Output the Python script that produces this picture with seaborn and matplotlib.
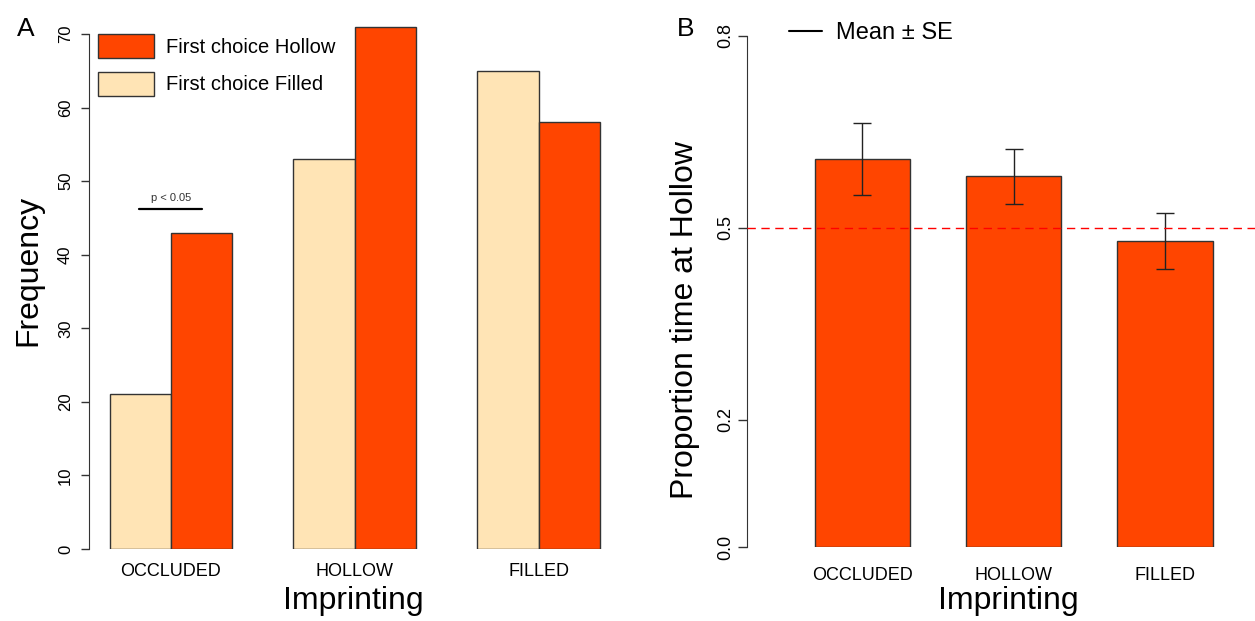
import pandas as pd
import matplotlib.pyplot as plt
import seaborn as sns
from matplotlib.patches import Patch
from matplotlib.lines import Line2D

# ---------------------------------------------------------
# DATA
# ---------------------------------------------------------
imprinting = ["OCCLUDED", "HOLLOW", "FILLED"]

# panel A: counts of first choice
first_filled = [21, 53, 65]
first_hollow = [43, 71, 58]

# panel B: proportion of time at hollow stimulus
prop_mean = [0.607, 0.580, 0.479]
prop_se = [0.056, 0.043, 0.044]

RED = "#FF4500"
BEIGE = "#FFE4B5"
EDGE = "#333333"

sns.set_style("white")
plt.rcParams["font.family"] = ["Liberation Sans", "DejaVu Sans"]
plt.rcParams["text.color"] = "black"
plt.rcParams["xtick.color"] = "black"
plt.rcParams["ytick.color"] = "black"
plt.rcParams["axes.labelcolor"] = "black"

df_a = pd.DataFrame({
    "imprinting": imprinting * 2,
    "choice": ["Filled"] * 3 + ["Hollow"] * 3,
    "count": first_filled + first_hollow,
})
df_b = pd.DataFrame({"imprinting": imprinting, "prop": prop_mean, "se": prop_se})

fig = plt.figure(figsize=(12.55, 6.21), dpi=100)
ax1 = fig.add_axes([0.0709, 0.11594, 0.4215, 0.87601])
ax2 = fig.add_axes([0.5952, 0.11836, 0.4167, 0.87359])

# ---------------------------------------------------------
# PANEL A
# ---------------------------------------------------------
sns.barplot(data=df_a, x="imprinting", y="count", hue="choice",
            hue_order=["Filled", "Hollow"], palette=[BEIGE, RED], saturation=1,
            width=2 / 3, gap=0, edgecolor=EDGE, linewidth=1,
            errorbar=None, legend=False, ax=ax1)
ax1.set_xlim(-0.446, 2.432)
ax1.set_ylim(0, 73.94)
ax1.set_yticks(range(0, 71, 10))
ax1.set_xticks(range(len(imprinting)))
ax1.set_xticklabels(imprinting, fontsize=13)
ax1.tick_params(axis="x", length=0, pad=10)
ax1.tick_params(axis="y", left=True, labelrotation=90, labelsize=12, length=6,
                width=1, pad=5.5, color=EDGE)
for lab in ax1.get_yticklabels():
    lab.set_va("center")
ax1.set_ylabel("Frequency", fontsize=23)
ax1.yaxis.set_label_coords(-0.1153, 0.5129)
ax1.yaxis.label.set_va("center")
ax1.set_xlabel("Imprinting", fontsize=23)
ax1.xaxis.set_label_coords(0.5, -0.068)
ax1.xaxis.label.set_va("top")
sns.despine(ax=ax1, bottom=True)
ax1.spines["left"].set_bounds(0, 70)
ax1.spines["left"].set_color(EDGE)

# significance bar over OCCLUDED
sig_y = first_hollow[0] + 3.2
ax1.plot([-0.174, 0.169], [sig_y, sig_y], color="black", lw=1.6)
ax1.text(0, sig_y + 0.8, "p < 0.05", ha="center", va="bottom", fontsize=8, color="#333333")

handles = [Patch(facecolor=RED, edgecolor=EDGE, label="First choice Hollow"),
           Patch(facecolor=BEIGE, edgecolor=EDGE, label="First choice Filled")]
ax1.legend(handles=handles, loc="upper left", bbox_to_anchor=(98 / 1255, 1 - 34 / 621),
           bbox_transform=fig.transFigure, frameon=False, fontsize=14.5,
           handlelength=2.79, handleheight=1.44, labelspacing=0.7,
           handletextpad=0.6, borderpad=0, borderaxespad=0)

fig.text(26 / 1255, 1 - 29 / 621, "A", fontsize=19, ha="center", va="center")

# ---------------------------------------------------------
# PANEL B
# ---------------------------------------------------------
sns.barplot(data=df_b, x="imprinting", y="prop", color=RED, saturation=1, width=0.631,
            edgecolor=EDGE, linewidth=1, errorbar=None, ax=ax2)
ax2.errorbar(range(len(imprinting)), df_b["prop"], yerr=df_b["se"], fmt="none",
             ecolor="#222222", elinewidth=1, capsize=6.4, capthick=1)
ax2.axhline(0.5, color="red", lw=1, dashes=(6, 4), zorder=3)
ax2.set_xlim(-0.762, 2.695)
ax2.set_ylim(0, 0.8477)
ax2.set_yticks([0.0, 0.2, 0.5, 0.8])
ax2.set_yticklabels(["0.0", "0.2", "0.5", "0.8"])
ax2.set_xticks(range(len(imprinting)))
ax2.set_xticklabels(imprinting, fontsize=13)
ax2.tick_params(axis="x", length=0, pad=14)
ax2.tick_params(axis="y", left=True, labelrotation=90, labelsize=13, length=6.5,
                width=1, pad=3, color=EDGE)
for lab in ax2.get_yticklabels():
    lab.set_va("center")
ax2.set_ylabel("Proportion time at Hollow", fontsize=23)
ax2.yaxis.set_label_coords(-0.1185, 0.4194)
ax2.yaxis.label.set_va("center")
ax2.set_xlabel("Imprinting", fontsize=23)
ax2.xaxis.set_label_coords(0.5, -0.071)
ax2.xaxis.label.set_va("top")
sns.despine(ax=ax2, bottom=True)
ax2.spines["left"].set_bounds(0, 0.8)
ax2.spines["left"].set_color(EDGE)

ax2.legend(handles=[Line2D([], [], color="black", lw=1.5, label="Mean \u00b1 SE")],
           loc="upper left", bbox_to_anchor=(789 / 1255, 1 - 22 / 621),
           bbox_transform=fig.transFigure, frameon=False, fontsize=17,
           handlelength=1.4, handletextpad=0.6, borderpad=0, borderaxespad=0)

fig.text(686 / 1255, 1 - 29 / 621, "B", fontsize=19, ha="center", va="center")

fig.savefig("out.png", dpi=100)
